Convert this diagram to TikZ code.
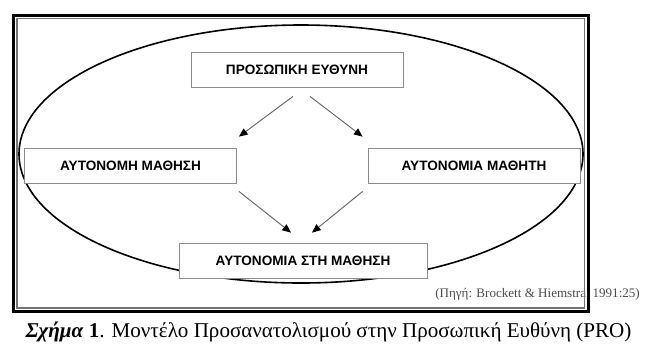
\documentclass[tikz,border=0pt]{standalone}
\usepackage{fontspec}
\setmainfont{Liberation Serif}
\newfontfamily\arialfont{Liberation Sans}
\usepackage{tikz}
\usetikzlibrary{arrows.meta,shapes.geometric,positioning}

\begin{document}
\begin{tikzpicture}[
    x=0.75pt, y=-0.75pt,
    box/.style={draw=black!45, line width=0.6pt, fill=white, inner sep=0pt, minimum width=159pt, minimum height=26.25pt, font=\arialfont\fontsize{10.2}{12}\selectfont\bfseries},
    arr/.style={-{Triangle[length=6.5pt,width=5.5pt,black]}, draw=black!60, line width=0.7pt},
    oval/.style={draw, ellipse, line width=1.2pt, inner sep=0pt, minimum width=423pt, minimum height=193.5pt}
]
\useasboundingbox (0,0) rectangle (659,355);

% model
\node[oval] (rng) at (301,154) {};
\node[box] (resp) at (297,69.5) {ΠΡΟΣΩΠΙΚΗ ΕΥΘΥΝΗ};
\node[box] (selfdir) at (130.5,165.5) {ΑΥΤΟΝΟΜΗ ΜΑΘΗΣΗ};
\node[box] (learner) at (474,165.5) {ΑΥΤΟΝΟΜΙΑ ΜΑΘΗΤΗ};
\node[box, minimum width=186pt] (auton) at (303,260.5) {ΑΥΤΟΝΟΜΙΑ ΣΤΗ ΜΑΘΗΣΗ};

\draw[arr] ([shift={(-4,9)}]resp.south) -- ([shift={(2,-11)}]selfdir.north east);
\draw[arr] ([shift={(13,9)}]resp.south) -- ([shift={(-5,-11)}]learner.north west);
\draw[arr] ([shift={(2,8)}]selfdir.south east) -- ([shift={(-12,-10)}]auton.north);
\draw[arr] ([shift={(-5,8)}]learner.south west) -- ([shift={(9,-10)}]auton.north);

% source and frame
\node[anchor=base west, inner sep=0pt, text=black!70, font=\fontsize{9.8}{11}\selectfont] (src) at (435,297) {(Πηγή: Brockett \& Hiemstra, 1991:25)};
\draw[line width=2.25pt] (13.7,15.7) rectangle (588,311.3);
\draw[black!55, line width=1.1pt] (17,18.7) rectangle (584.5,307.8);

% caption
\node[anchor=base, inner sep=0pt, font=\fontsize{15.8}{18}\selectfont] (cap) at (328.5,337)
    {\textbf{\textit{Σχήμα} 1}. Μοντέλο Προσανατολισμού στην Προσωπική Ευθύνη (PRO)};
\end{tikzpicture}
\end{document}
